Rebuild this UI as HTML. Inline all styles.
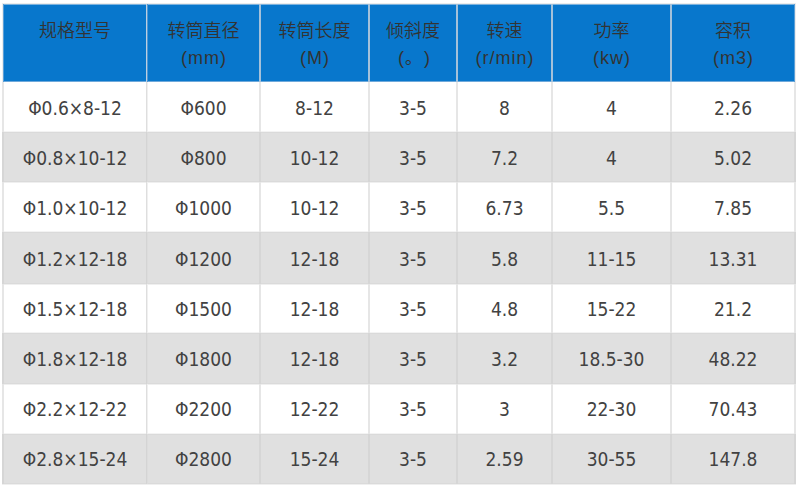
<!DOCTYPE html>
<html><head><meta charset="utf-8"><title>table</title>
<style>
html,body{margin:0;padding:0;background:#fff;}
body{width:800px;height:489px;overflow:hidden;position:relative;}
.t{position:absolute;left:0;top:0;width:800px;height:489px;}
.b{position:absolute;}
.c{position:absolute;display:flex;align-items:center;justify-content:center;text-align:center;white-space:nowrap;
 font-family:"DejaVu Sans Condensed","DejaVu Sans",sans-serif;font-stretch:condensed;font-size:19px;color:#424242;}
.h1{position:absolute;text-align:center;white-space:nowrap;font-family:"Noto Sans CJK SC",sans-serif;font-weight:350;font-size:18px;line-height:30px;color:#333;top:14px;}
.h2{position:absolute;text-align:center;white-space:nowrap;font-family:"Liberation Sans","Noto Sans CJK SC",sans-serif;font-size:18px;letter-spacing:1px;text-indent:1px;line-height:30px;color:#333;top:43px;text-spacing-trim:space-all;}
</style></head><body>
<div class="t">
<div class="b" style="left:2px;top:3px;width:794px;height:1px;background:#ececec"></div>
<div class="b" style="left:2px;top:4px;width:794px;height:1px;background:#7cb2de"></div>
<div class="b" style="left:2px;top:5px;width:794px;height:76px;background:#0877cc"></div>
<div class="b" style="left:2px;top:81px;width:794px;height:1px;background:#6fa9da"></div>
<div class="b" style="left:2px;top:131px;width:794px;height:1px;background:#f3f3f3"></div>
<div class="b" style="left:2px;top:132px;width:794px;height:1px;background:#dadada"></div>
<div class="b" style="left:2px;top:133px;width:794px;height:48px;background:#e0e0e0"></div>
<div class="b" style="left:2px;top:181px;width:794px;height:1px;background:#dadada"></div>
<div class="b" style="left:2px;top:182px;width:794px;height:1px;background:#efefef"></div>
<div class="b" style="left:2px;top:231px;width:794px;height:1px;background:#f3f3f3"></div>
<div class="b" style="left:2px;top:232px;width:794px;height:1px;background:#dadada"></div>
<div class="b" style="left:2px;top:233px;width:794px;height:50px;background:#e0e0e0"></div>
<div class="b" style="left:2px;top:283px;width:794px;height:1px;background:#dadada"></div>
<div class="b" style="left:2px;top:284px;width:794px;height:1px;background:#efefef"></div>
<div class="b" style="left:2px;top:332px;width:794px;height:1px;background:#f3f3f3"></div>
<div class="b" style="left:2px;top:333px;width:794px;height:1px;background:#dadada"></div>
<div class="b" style="left:2px;top:334px;width:794px;height:49px;background:#e0e0e0"></div>
<div class="b" style="left:2px;top:383px;width:794px;height:1px;background:#dadada"></div>
<div class="b" style="left:2px;top:384px;width:794px;height:1px;background:#efefef"></div>
<div class="b" style="left:2px;top:433px;width:794px;height:1px;background:#f3f3f3"></div>
<div class="b" style="left:2px;top:434px;width:794px;height:1px;background:#dadada"></div>
<div class="b" style="left:2px;top:435px;width:794px;height:48px;background:#e0e0e0"></div>
<div class="b" style="left:2px;top:483px;width:794px;height:1px;background:#dadada"></div>
<div class="b" style="left:2px;top:484px;width:794px;height:1px;background:#efefef"></div>
<div class="b" style="left:2px;top:3px;width:1px;height:79px;background:#ececec"></div>
<div class="b" style="left:3px;top:4px;width:1px;height:78px;background:#5a9fd8"></div>
<div class="b" style="left:2px;top:82px;width:2px;height:402px;background:#e6e6e6"></div>
<div class="b" style="left:2px;top:132px;width:2px;height:50px;background:#d6d6d6"></div>
<div class="b" style="left:2px;top:232px;width:2px;height:52px;background:#d6d6d6"></div>
<div class="b" style="left:2px;top:333px;width:2px;height:51px;background:#d6d6d6"></div>
<div class="b" style="left:2px;top:434px;width:2px;height:50px;background:#d6d6d6"></div>
<div class="b" style="left:146px;top:4px;width:1px;height:78px;background:#bccfe0"></div>
<div class="b" style="left:147px;top:4px;width:1px;height:78px;background:#4f98d6"></div>
<div class="b" style="left:146px;top:82px;width:1px;height:402px;background:#dedede"></div>
<div class="b" style="left:147px;top:82px;width:1px;height:402px;background:#f0f0f0"></div>
<div class="b" style="left:146px;top:132px;width:1px;height:50px;background:#d4d4d4"></div>
<div class="b" style="left:147px;top:132px;width:1px;height:50px;background:#dcdcdc"></div>
<div class="b" style="left:146px;top:232px;width:1px;height:52px;background:#d4d4d4"></div>
<div class="b" style="left:147px;top:232px;width:1px;height:52px;background:#dcdcdc"></div>
<div class="b" style="left:146px;top:333px;width:1px;height:51px;background:#d4d4d4"></div>
<div class="b" style="left:147px;top:333px;width:1px;height:51px;background:#dcdcdc"></div>
<div class="b" style="left:146px;top:434px;width:1px;height:50px;background:#d4d4d4"></div>
<div class="b" style="left:147px;top:434px;width:1px;height:50px;background:#dcdcdc"></div>
<div class="b" style="left:259px;top:4px;width:2px;height:78px;background:#a4c1da"></div>
<div class="b" style="left:259px;top:82px;width:2px;height:402px;background:#e6e6e6"></div>
<div class="b" style="left:259px;top:132px;width:2px;height:50px;background:#d6d6d6"></div>
<div class="b" style="left:259px;top:232px;width:2px;height:52px;background:#d6d6d6"></div>
<div class="b" style="left:259px;top:333px;width:2px;height:51px;background:#d6d6d6"></div>
<div class="b" style="left:259px;top:434px;width:2px;height:50px;background:#d6d6d6"></div>
<div class="b" style="left:368px;top:4px;width:2px;height:78px;background:#a4c1da"></div>
<div class="b" style="left:368px;top:82px;width:2px;height:402px;background:#e6e6e6"></div>
<div class="b" style="left:368px;top:132px;width:2px;height:50px;background:#d6d6d6"></div>
<div class="b" style="left:368px;top:232px;width:2px;height:52px;background:#d6d6d6"></div>
<div class="b" style="left:368px;top:333px;width:2px;height:51px;background:#d6d6d6"></div>
<div class="b" style="left:368px;top:434px;width:2px;height:50px;background:#d6d6d6"></div>
<div class="b" style="left:456px;top:4px;width:2px;height:78px;background:#a4c1da"></div>
<div class="b" style="left:456px;top:82px;width:2px;height:402px;background:#e6e6e6"></div>
<div class="b" style="left:456px;top:132px;width:2px;height:50px;background:#d6d6d6"></div>
<div class="b" style="left:456px;top:232px;width:2px;height:52px;background:#d6d6d6"></div>
<div class="b" style="left:456px;top:333px;width:2px;height:51px;background:#d6d6d6"></div>
<div class="b" style="left:456px;top:434px;width:2px;height:50px;background:#d6d6d6"></div>
<div class="b" style="left:551px;top:4px;width:2px;height:78px;background:#a4c1da"></div>
<div class="b" style="left:551px;top:82px;width:2px;height:402px;background:#e6e6e6"></div>
<div class="b" style="left:551px;top:132px;width:2px;height:50px;background:#d6d6d6"></div>
<div class="b" style="left:551px;top:232px;width:2px;height:52px;background:#d6d6d6"></div>
<div class="b" style="left:551px;top:333px;width:2px;height:51px;background:#d6d6d6"></div>
<div class="b" style="left:551px;top:434px;width:2px;height:50px;background:#d6d6d6"></div>
<div class="b" style="left:670px;top:4px;width:2px;height:78px;background:#a4c1da"></div>
<div class="b" style="left:670px;top:82px;width:2px;height:402px;background:#e6e6e6"></div>
<div class="b" style="left:670px;top:132px;width:2px;height:50px;background:#d6d6d6"></div>
<div class="b" style="left:670px;top:232px;width:2px;height:52px;background:#d6d6d6"></div>
<div class="b" style="left:670px;top:333px;width:2px;height:51px;background:#d6d6d6"></div>
<div class="b" style="left:670px;top:434px;width:2px;height:50px;background:#d6d6d6"></div>
<div class="b" style="left:794px;top:4px;width:1px;height:78px;background:#5a9fd8"></div>
<div class="b" style="left:795px;top:3px;width:1px;height:79px;background:#ececec"></div>
<div class="b" style="left:794px;top:82px;width:2px;height:402px;background:#e6e6e6"></div>
<div class="b" style="left:794px;top:132px;width:2px;height:50px;background:#d6d6d6"></div>
<div class="b" style="left:794px;top:232px;width:2px;height:52px;background:#d6d6d6"></div>
<div class="b" style="left:794px;top:333px;width:2px;height:51px;background:#d6d6d6"></div>
<div class="b" style="left:794px;top:434px;width:2px;height:50px;background:#d6d6d6"></div>
<div class="h1" style="left:4px;width:142px">规格型号</div>
<div class="h1" style="left:148px;width:111px">转筒直径</div>
<div class="h2" style="left:148px;width:111px">(mm)</div>
<div class="h1" style="left:261px;width:107px">转筒长度</div>
<div class="h2" style="left:261px;width:107px">(M)</div>
<div class="h1" style="left:370px;width:86px">倾斜度</div>
<div class="h2" style="left:370px;width:86px"><span style="position:relative;left:1px">(<span style="display:inline-block;width:19px;letter-spacing:0;text-align:left;font-size:17px;position:relative;left:-1px">。</span>)</span></div>
<div class="h1" style="left:458px;width:93px">转速</div>
<div class="h2" style="left:458px;width:93px">(r/min)</div>
<div class="h1" style="left:553px;width:117px">功率</div>
<div class="h2" style="left:553px;width:117px">(kw)</div>
<div class="h1" style="left:672px;width:122px">容积</div>
<div class="h2" style="left:672px;width:122px">(m3)</div>
<div class="c" style="left:4px;width:142px;top:83px;height:50px">Φ0.6×8-12</div>
<div class="c" style="left:148px;width:111px;top:83px;height:50px">Φ600</div>
<div class="c" style="left:261px;width:107px;top:83px;height:50px">8-12</div>
<div class="c" style="left:370px;width:86px;top:83px;height:50px">3-5</div>
<div class="c" style="left:458px;width:93px;top:83px;height:50px">8</div>
<div class="c" style="left:553px;width:117px;top:83px;height:50px">4</div>
<div class="c" style="left:672px;width:122px;top:83px;height:50px">2.26</div>
<div class="c" style="left:4px;width:142px;top:133px;height:50px">Φ0.8×10-12</div>
<div class="c" style="left:148px;width:111px;top:133px;height:50px">Φ800</div>
<div class="c" style="left:261px;width:107px;top:133px;height:50px">10-12</div>
<div class="c" style="left:370px;width:86px;top:133px;height:50px">3-5</div>
<div class="c" style="left:458px;width:93px;top:133px;height:50px">7.2</div>
<div class="c" style="left:553px;width:117px;top:133px;height:50px">4</div>
<div class="c" style="left:672px;width:122px;top:133px;height:50px">5.02</div>
<div class="c" style="left:4px;width:142px;top:183px;height:50px">Φ1.0×10-12</div>
<div class="c" style="left:148px;width:111px;top:183px;height:50px">Φ1000</div>
<div class="c" style="left:261px;width:107px;top:183px;height:50px">10-12</div>
<div class="c" style="left:370px;width:86px;top:183px;height:50px">3-5</div>
<div class="c" style="left:458px;width:93px;top:183px;height:50px">6.73</div>
<div class="c" style="left:553px;width:117px;top:183px;height:50px">5.5</div>
<div class="c" style="left:672px;width:122px;top:183px;height:50px">7.85</div>
<div class="c" style="left:4px;width:142px;top:234px;height:50px">Φ1.2×12-18</div>
<div class="c" style="left:148px;width:111px;top:234px;height:50px">Φ1200</div>
<div class="c" style="left:261px;width:107px;top:234px;height:50px">12-18</div>
<div class="c" style="left:370px;width:86px;top:234px;height:50px">3-5</div>
<div class="c" style="left:458px;width:93px;top:234px;height:50px">5.8</div>
<div class="c" style="left:553px;width:117px;top:234px;height:50px">11-15</div>
<div class="c" style="left:672px;width:122px;top:234px;height:50px">13.31</div>
<div class="c" style="left:4px;width:142px;top:284px;height:50px">Φ1.5×12-18</div>
<div class="c" style="left:148px;width:111px;top:284px;height:50px">Φ1500</div>
<div class="c" style="left:261px;width:107px;top:284px;height:50px">12-18</div>
<div class="c" style="left:370px;width:86px;top:284px;height:50px">3-5</div>
<div class="c" style="left:458px;width:93px;top:284px;height:50px">4.8</div>
<div class="c" style="left:553px;width:117px;top:284px;height:50px">15-22</div>
<div class="c" style="left:672px;width:122px;top:284px;height:50px">21.2</div>
<div class="c" style="left:4px;width:142px;top:334px;height:50px">Φ1.8×12-18</div>
<div class="c" style="left:148px;width:111px;top:334px;height:50px">Φ1800</div>
<div class="c" style="left:261px;width:107px;top:334px;height:50px">12-18</div>
<div class="c" style="left:370px;width:86px;top:334px;height:50px">3-5</div>
<div class="c" style="left:458px;width:93px;top:334px;height:50px">3.2</div>
<div class="c" style="left:553px;width:117px;top:334px;height:50px">18.5-30</div>
<div class="c" style="left:672px;width:122px;top:334px;height:50px">48.22</div>
<div class="c" style="left:4px;width:142px;top:384px;height:50px">Φ2.2×12-22</div>
<div class="c" style="left:148px;width:111px;top:384px;height:50px">Φ2200</div>
<div class="c" style="left:261px;width:107px;top:384px;height:50px">12-22</div>
<div class="c" style="left:370px;width:86px;top:384px;height:50px">3-5</div>
<div class="c" style="left:458px;width:93px;top:384px;height:50px">3</div>
<div class="c" style="left:553px;width:117px;top:384px;height:50px">22-30</div>
<div class="c" style="left:672px;width:122px;top:384px;height:50px">70.43</div>
<div class="c" style="left:4px;width:142px;top:434px;height:50px">Φ2.8×15-24</div>
<div class="c" style="left:148px;width:111px;top:434px;height:50px">Φ2800</div>
<div class="c" style="left:261px;width:107px;top:434px;height:50px">15-24</div>
<div class="c" style="left:370px;width:86px;top:434px;height:50px">3-5</div>
<div class="c" style="left:458px;width:93px;top:434px;height:50px">2.59</div>
<div class="c" style="left:553px;width:117px;top:434px;height:50px">30-55</div>
<div class="c" style="left:672px;width:122px;top:434px;height:50px">147.8</div>
</div>
</body></html>
